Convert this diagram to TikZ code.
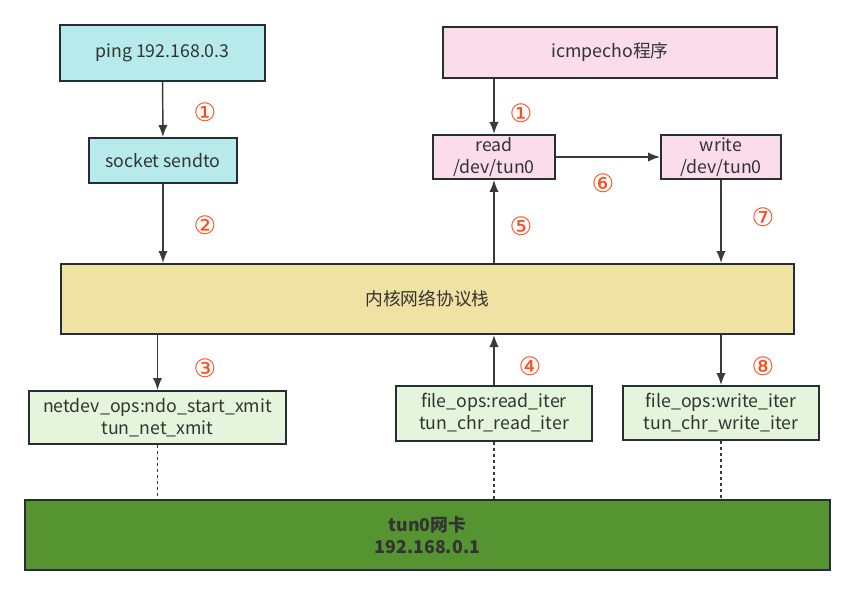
\documentclass[tikz,border=0pt]{standalone}
\usepackage{fontspec}
\setmainfont{Noto Sans CJK SC}
\newfontfamily\circfont{DejaVu Sans}
\usetikzlibrary{arrows.meta}
\definecolor{cyanbox}{HTML}{B7EAEA}
\definecolor{pinkbox}{HTML}{FADCEB}
\definecolor{kernbox}{HTML}{F0E2A2}
\definecolor{opsbox}{HTML}{E4F5DC}
\definecolor{nicbox}{HTML}{559431}
\definecolor{edge}{HTML}{262D33}
\definecolor{wire}{HTML}{3A3A3A}
\definecolor{stepred}{HTML}{FF4A1A}
\begin{document}
\begin{tikzpicture}[x=0.75pt, y=-0.75pt, every node/.style={font=\fontsize{13.3}{16.5}\selectfont, text=black!80}]
  \useasboundingbox (0,0) rectangle (855,595);
  \tikzstyle{box}=[draw=edge, line width=1.5pt, align=center, inner sep=0pt]
  \tikzstyle{flow}=[-{Latex[length=9pt,width=7pt]}, wire, line width=1.1pt]
  \tikzstyle{link}=[wire, line width=1pt, dash pattern=on 2.5pt off 2pt]
  \tikzstyle{num}=[text=stepred, font=\circfont\fontsize{19}{20}\selectfont]
  % user space
  \node[box, fill=cyanbox, minimum width=205*0.75pt, minimum height=56*0.75pt] (ping) at (162.5,53) {ping 192.168.0.3};
  \node[box, fill=cyanbox, minimum width=148*0.75pt, minimum height=45*0.75pt] (sock) at (163,160.5) {socket sendto};
  \node[box, fill=pinkbox, minimum width=334*0.75pt, minimum height=51*0.75pt] (icmp) at (610,52.5) {icmpecho程序};
  \node[box, fill=pinkbox, minimum width=122*0.75pt, minimum height=44*0.75pt] (rd) at (494,157) {read\\/dev/tun0};
  \node[box, fill=pinkbox, minimum width=120*0.75pt, minimum height=44*0.75pt] (wr) at (721,157) {write\\/dev/tun0};
  % kernel
  \node[box, fill=kernbox, minimum width=733*0.75pt, minimum height=70*0.75pt] (kern) at (427.5,299) {内核网络协议栈};
  \node[box, fill=opsbox, minimum width=257*0.75pt, minimum height=53*0.75pt] (ndo) at (157.5,417.5) {netdev\_ops:ndo\_start\_xmit\\tun\_net\_xmit};
  \node[box, fill=opsbox, minimum width=196*0.75pt, minimum height=55*0.75pt] (rit) at (494,413) {file\_ops:read\_iter\\tun\_chr\_read\_iter};
  \node[box, fill=opsbox, minimum width=196*0.75pt, minimum height=54*0.75pt] (wit) at (721,413) {file\_ops:write\_iter\\tun\_chr\_write\_iter};
  \node[box, fill=nicbox, minimum width=805*0.75pt, minimum height=70*0.75pt, font=\fontsize{13.3}{16.5}\selectfont\bfseries] (nic) at (427.5,535) {tun0网卡\\192.168.0.1};
  % arrows
  \draw[flow] (ping) -- (sock);
  \draw[flow] (sock.south) -- (sock.south |- kern.north);
  \draw[flow] (ndo.north |- kern.south) -- (ndo.north);
  \draw[flow] (rit.north) -- (rit.north |- kern.south);
  \draw[flow] (rd.south |- kern.north) -- (rd.south);
  \draw[flow] (rd.north |- icmp.south) -- (rd.north);
  \draw[flow] (rd.east) -- (wr.west);
  \draw[flow] (wr.south) -- (wr.south |- kern.north);
  \draw[flow] (wit.north |- kern.south) -- (wit.north);
  \draw[link] (ndo.south) -- (ndo.south |- nic.north);
  \draw[link] (rit.south) -- (rit.south |- nic.north);
  \draw[link] (wit.south) -- (wit.south |- nic.north);
  % steps
  \node[num] (n1a) at (205,112) {①};
  \node[num] (n2) at (205,225) {②};
  \node[num] (n3) at (205,368) {③};
  \node[num] (n1b) at (521,113) {①};
  \node[num] (n5) at (521,226) {⑤};
  \node[num] (n6) at (603,183) {⑥};
  \node[num] (n7) at (763,217) {⑦};
  \node[num] (n4) at (530,366) {④};
  \node[num] (n8) at (763,366) {⑧};
\end{tikzpicture}
\end{document}
